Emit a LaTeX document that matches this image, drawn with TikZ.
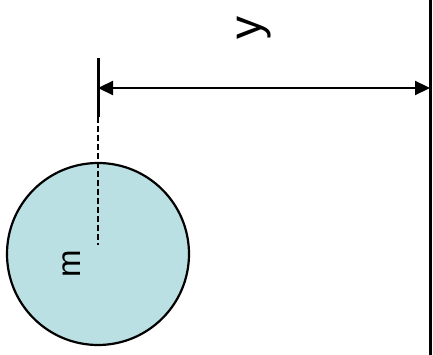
\documentclass[tikz,border=0pt]{standalone}
\usepackage{fontspec}
\setmainfont{Liberation Sans}
\usetikzlibrary{arrows.meta}
\definecolor{ballblue}{RGB}{186,224,227}

\begin{document}
\begin{tikzpicture}[x=1pt, y=1pt, thick, ball/.style = {draw, circle, line width=2.2pt, fill=ballblue, inner sep=0pt, minimum size=182pt}, lbl/.style = {rotate=90, font=\fontsize{33}{38}\selectfont}]
        \useasboundingbox (0,0) rectangle (433,-355);
        \node[ball] (mass) at (98,-254) {};
        \coordinate (c) at (98,-245);
        \coordinate (tt) at (98,-58);
        \coordinate (tb) at (98,-117);
        \coordinate (wt) at (430,0);
        \coordinate (wb) at (430,-355);
        \coordinate (al) at (98,-88);
        \coordinate (ar) at (430,-88);
        \node[lbl] (m) at (72,-264) {m};
        \node[lbl, font=\fontsize{46}{52}\selectfont] (y) at (254,-28) {y};
        \draw[line width=3pt] (wt) -- (wb);
        \draw[line width=3pt] (tt) -- (tb);
        \draw[line width=2.4pt, dash pattern=on 6pt off 3pt] (tb) -- (c);
        \draw[line width=2.2pt, {Triangle[length=15pt,width=14pt]}-{Triangle[length=15pt,width=14pt]}] (al) -- (ar);
    \end{tikzpicture}
\end{document}
